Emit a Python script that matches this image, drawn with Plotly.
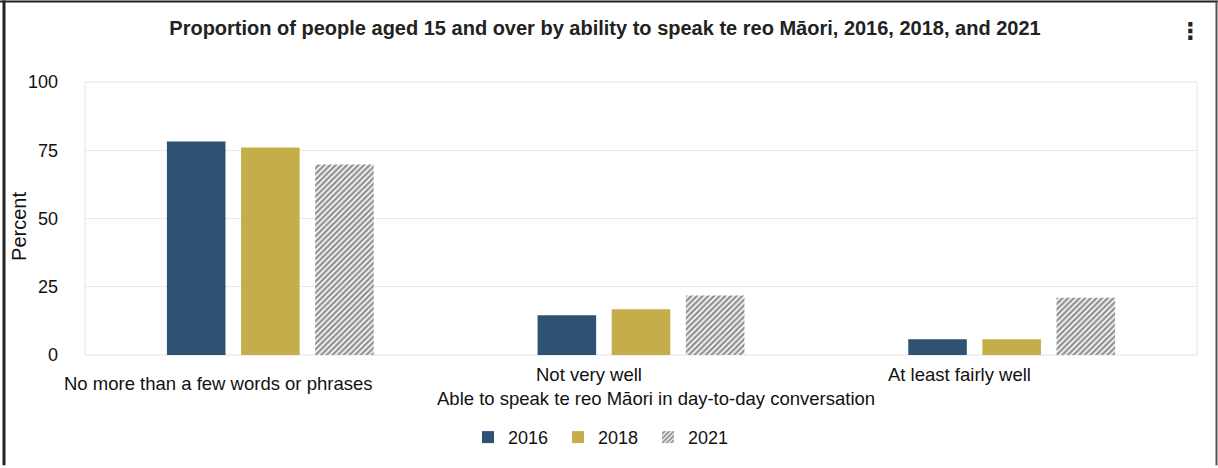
import plotly.graph_objects as go

categories = ["No more than a few words or phrases", "Not very well", "At least fairly well"]
years = ["2016", "2018", "2021"]
values_2016 = [78.2, 14.6, 5.8]
values_2018 = [76.0, 16.8, 5.8]
values_2021 = [69.8, 21.8, 21.0]
y_ticks = [0, 25, 50, 75, 100]

W, H = 1218, 468
ML, MR, MT, MB = 85, 21, 82, 111
PW, PH = W - ML - MR, H - MT - MB

def px(x):
    return (x - ML) / PW

def py(y):
    return (H - MB - y) / PH

fig = go.Figure()
fig.add_trace(go.Bar(x=categories, y=values_2016, name=years[0],
                     marker=dict(color="#2f5272", line=dict(width=0))))
fig.add_trace(go.Bar(x=categories, y=values_2018, name=years[1],
                     marker=dict(color="#c5ad4a", line=dict(width=0))))
fig.add_trace(go.Bar(x=categories, y=values_2021, name=years[2],
                     marker=dict(color="white", line=dict(width=0),
                                 pattern=dict(shape="/", fgcolor="#222222", bgcolor="white",
                                              size=4, solidity=0.6))))

font_main = "Liberation Sans, Arial, sans-serif"

label_rows = [386, 377, 377]  # pixel rows of the category labels
annotations = []
for c, row in zip(categories, label_rows):
    annotations.append(dict(x=c, xref="x", y=py(row), yref="paper", text=c, showarrow=False,
                            xshift=-52, font=dict(size=18.5, color="#111", family=font_main),
                            xanchor="center", yanchor="middle"))
annotations.append(dict(x=px(656), xref="paper", y=py(401), yref="paper",
                        text="Able to speak te reo Māori in day-to-day conversation", showarrow=False,
                        font=dict(size=18.5, color="#111", family=font_main), xanchor="center", yanchor="middle"))
annotations.append(dict(x=px(1190), xref="paper", y=py(31), yref="paper", text="<b>⋮</b>", showarrow=False,
                        font=dict(size=23, color="#222", family="DejaVu Sans"), xanchor="center", yanchor="middle"))
annotations.append(dict(x=px(19), xref="paper", y=py(228), yref="paper", text="Percent", showarrow=False,
                        textangle=-90, font=dict(size=20, color="#111", family=font_main),
                        xanchor="center", yanchor="middle"))

shapes = [
    dict(type="line", xref="paper", yref="paper", x0=px(0), x1=px(W), y0=py(1), y1=py(1),
         line=dict(color="#222", width=2)),
    dict(type="line", xref="paper", yref="paper", x0=px(4), x1=px(4), y0=py(0), y1=py(H),
         line=dict(color="#222", width=3)),
    dict(type="line", xref="paper", yref="paper", x0=px(1216.5), x1=px(1216.5), y0=py(0), y1=py(H),
         line=dict(color="#555", width=2)),
    dict(type="rect", xref="paper", yref="paper", x0=0, x1=1, y0=0, y1=1,
         line=dict(color="#e3e3e8", width=1), layer="below"),
]

fig.update_layout(
    width=W, height=H,
    margin=dict(l=ML, r=MR, t=MT, b=MB),
    paper_bgcolor="white", plot_bgcolor="white",
    title=dict(text="<b>Proportion of people aged 15 and over by ability to speak te reo Māori, 2016, 2018, and 2021</b>",
               xref="container", x=605 / W, xanchor="center", yref="container", y=1 - 28 / H, yanchor="middle",
               font=dict(size=20, color="#222", family=font_main)),
    barmode="group", bargap=0.40, bargroupgap=0.21,
    showlegend=True,
    legend=dict(orientation="h", x=px(603), xanchor="center", y=py(440), yanchor="middle",
                font=dict(size=18, color="#111", family=font_main),
                entrywidth=45, entrywidthmode="pixels", traceorder="normal"),
    xaxis=dict(showticklabels=False, showgrid=False, showline=False, ticks="", zeroline=False,
               range=[-0.5, 2.5], autorange=False, automargin=False),
    yaxis=dict(range=[0, 100], tickvals=y_ticks, ticktext=[str(v) for v in y_ticks], automargin=False,
               showgrid=True, gridcolor="#e8e8ee", gridwidth=1, zeroline=False,
               tickfont=dict(size=18, color="#111", family=font_main), ticks="", ticklabelstandoff=26),
    annotations=annotations,
    shapes=shapes,
)

fig.write_html("out.html", config={"displayModeBar": False},
               post_script="document.body.style.margin='0';document.body.style.overflow='hidden';")
